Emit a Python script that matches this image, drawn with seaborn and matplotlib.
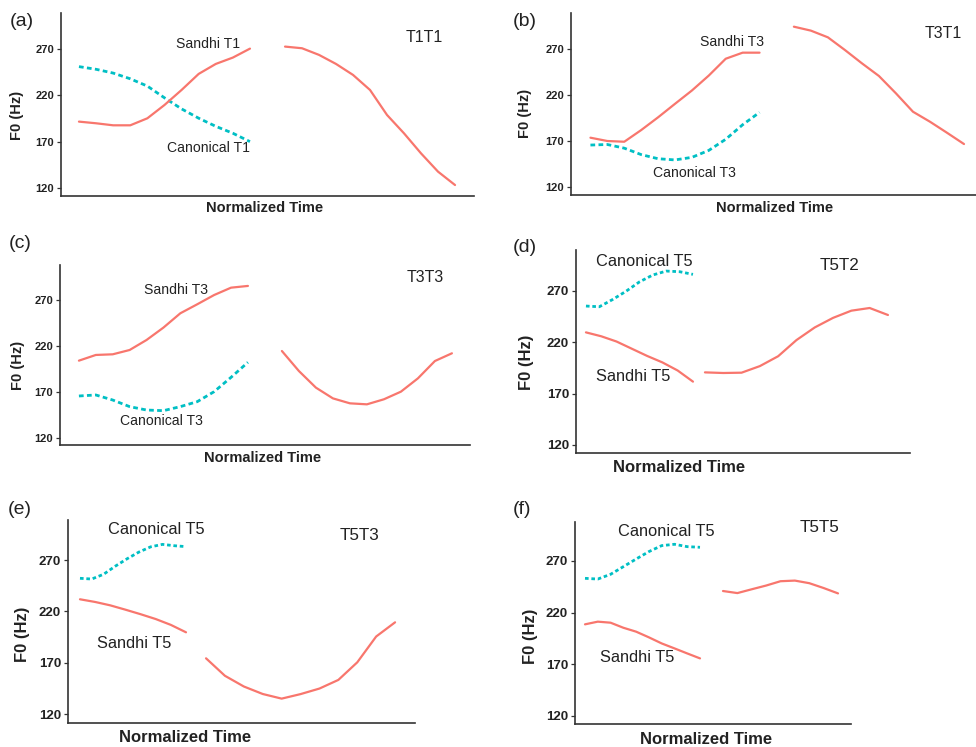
import numpy as np
import matplotlib
matplotlib.use("Agg")
import matplotlib.pyplot as plt
import seaborn as sns

# ---------------- data (F0 in Hz, equally spaced along each syllable) ----------------
yticks = [120, 170, 220, 270]

# (a) T1T1
a_sandhi1 = [191.6, 189.8, 187.6, 187.6, 195.2, 209.6, 225.9, 243.3, 254.1, 261.0, 270.7]
a_canon1 = [251.2, 248.3, 244.2, 238.0, 230.1, 217.4, 205.4, 195.3, 186.5, 179.0, 169.9]
a_syl2 = [272.9, 271.1, 263.9, 254.1, 242.2, 225.9, 198.8, 178.9, 157.2, 137.4, 122.9]
# (b) T3T1
b_sandhi1 = [173.4, 169.8, 169.0, 181.7, 195.6, 210.3, 224.8, 241.1, 259.4, 266.0, 266.0]
b_canon1 = [165.4, 166.0, 162.0, 155.0, 150.5, 149.2, 152.0, 159.6, 171.7, 187.5, 201.0]
b_syl2 = [294.3, 290.0, 282.7, 268.9, 254.4, 240.6, 221.7, 201.7, 190.8, 178.8, 166.5]
# (c) T3T3
c_sandhi1 = [203.9, 210.1, 210.8, 215.5, 226.4, 239.9, 255.5, 265.3, 275.4, 283.4, 285.3]
c_canon1 = [165.4, 166.5, 161.0, 153.8, 150.1, 149.4, 153.8, 159.2, 170.1, 185.7, 202.1]
c_syl2 = [214.4, 192.6, 174.5, 162.8, 157.4, 156.3, 161.8, 170.1, 184.6, 203.5, 211.9]
# (d) T5T2
d_sandhi1 = [229.5, 225.7, 220.6, 213.6, 206.6, 200.3, 192.4, 181.6]
d_canon1 = [255.1, 254.4, 261.5, 269.5, 278.6, 285.3, 289.1, 288.5, 285.9]
d_syl2 = [190.6, 190.0, 190.3, 196.7, 206.3, 222.0, 234.3, 243.6, 250.6, 253.2, 246.4]
# (e) T5T3
e_sandhi1 = [231.8, 229.2, 225.9, 221.7, 217.3, 212.6, 206.9, 199.7]
e_canon1 = [252.2, 251.5, 256.1, 264.0, 271.2, 277.7, 282.8, 285.2, 283.9, 283.0]
e_syl2 = [174.4, 157.4, 147.0, 139.7, 135.2, 139.6, 145.0, 153.4, 170.5, 195.6, 209.4]
# (f) T5T5
f_sandhi1 = [208.6, 211.2, 210.2, 205.3, 201.5, 196.0, 190.1, 185.3, 180.4, 175.6]
f_canon1 = [253.2, 252.5, 257.1, 264.5, 271.9, 279.1, 284.9, 286.2, 283.9, 283.3]
f_syl2 = [240.9, 238.9, 242.6, 246.2, 250.4, 251.0, 248.5, 243.8, 238.6]

panel_letters = ["(a)", "(b)", "(c)", "(d)", "(e)", "(f)"]
panel_titles = ["T1T1", "T3T1", "T3T3", "T5T2", "T5T3", "T5T5"]
sandhi_labels = ["Sandhi T1", "Sandhi T3", "Sandhi T3", "Sandhi T5", "Sandhi T5", "Sandhi T5"]
canon_labels = ["Canonical T1", "Canonical T3", "Canonical T3", "Canonical T5", "Canonical T5", "Canonical T5"]
sandhi_series = [a_sandhi1, b_sandhi1, c_sandhi1, d_sandhi1, e_sandhi1, f_sandhi1]
canon_series = [a_canon1, b_canon1, c_canon1, d_canon1, e_canon1, f_canon1]
second_series = [a_syl2, b_syl2, c_syl2, d_syl2, e_syl2, f_syl2]
# normalized-time span of the second syllable (first syllable spans 0..1)
syl2_span = [(1.205, 2.199), (1.203, 2.209), (1.201, 2.207),
             (1.112, 2.822), (1.189, 2.972), (1.200, 2.200)]

# ---------------- layout (pixels in a 976x747 canvas) ----------------
W, H = 976, 747
axes_px = [(61, 13, 474, 196), (571, 13, 976, 195), (60, 265, 470, 445),
           (576, 250, 910, 453), (68, 520, 415, 723), (575, 522, 851, 724)]
xlims = [(-0.105, 2.31), (-0.115, 2.28), (-0.112, 2.314),
         (-0.093, 3.028), (-0.113, 3.16), (-0.087, 2.313)]
ylims = [(111.0, 309.3), (111.0, 309.2), (112.0, 308.1),
         (112.2, 309.6), (111.5, 308.9), (112.0, 307.8)]
letter_pos = [(22, 22), (525, 22), (20, 243), (525, 247), (20, 510), (522, 510)]
title_pos = [(424, 38), (943, 33), (425, 278), (840, 266), (360, 535), (819, 528)]
sandhi_pos = [(208, 44), (732, 42), (176, 290), (633, 377), (134, 643), (637, 657)]
canon_pos = [(208, 148), (694, 173), (161, 421), (644, 262), (156, 529), (666, 532)]
xlabel_pos = [(265, 208), (775, 208), (263, 458), (679, 468), (185, 738), (706, 739)]
ylabel_pos = [(17, 115), (525, 113), (18, 365), (526, 362), (22, 634), (531, 636)]
big = [False, False, False, True, True, True]

RED = "#F8766D"
CYAN = "#00BFC4"

sns.set_theme(style="white")
plt.rcParams['font.family'] = ['Liberation Sans', 'DejaVu Sans']

fig = plt.figure(figsize=(W / 100, H / 100), dpi=100)
fig.patch.set_facecolor("white")


def fx(x):
    return x / W


def fy(y):
    return 1 - y / H


for i in range(6):
    l, t, r, b = axes_px[i]
    ax = fig.add_axes([fx(l), fy(b), (r - l) / W, (b - t) / H])
    ax.set_facecolor("white")

    s1 = sandhi_series[i]
    c1 = canon_series[i]
    s2 = second_series[i]
    t_s1 = np.linspace(0, 1, len(s1))
    t_c1 = np.linspace(0, 1, len(c1))
    t_s2 = np.linspace(syl2_span[i][0], syl2_span[i][1], len(s2))

    dash = (0, (1.3, 1.0)) if big[i] else (0, (1.7, 1.2))
    sns.lineplot(x=t_c1, y=c1, ax=ax, color=CYAN, linewidth=2.0,
                 linestyle=dash, sort=False, estimator=None)
    sns.lineplot(x=t_s1, y=s1, ax=ax, color=RED, linewidth=1.6,
                 sort=False, estimator=None)
    sns.lineplot(x=t_s2, y=s2, ax=ax, color=RED, linewidth=1.6,
                 sort=False, estimator=None)

    ax.set_xlim(*xlims[i])
    ax.set_ylim(*ylims[i])
    ax.set_xticks([])
    ax.set_yticks(yticks)
    ax.set_xlabel("")
    ax.set_ylabel("")
    tsize = 9.5 if big[i] else 8
    ax.tick_params(axis='y', left=True, length=3, width=0.9, color="#333333",
                   pad=2, labelsize=tsize, labelcolor="#222222")
    for lbl in ax.get_yticklabels():
        lbl.set_fontweight('bold')
    sns.despine(ax=ax)
    for sp in ("left", "bottom"):
        ax.spines[sp].set_color("#333333")
        ax.spines[sp].set_linewidth(1.2)

    lab_size = 12 if big[i] else 10.5
    fig.text(fx(xlabel_pos[i][0]), fy(xlabel_pos[i][1]), "Normalized Time",
             ha="center", va="center", fontsize=lab_size, fontweight="bold", color="#222222")
    fig.text(fx(ylabel_pos[i][0]), fy(ylabel_pos[i][1]), "F0 (Hz)", rotation=90,
             ha="center", va="center", fontsize=lab_size, fontweight="bold", color="#222222")

    fig.text(fx(letter_pos[i][0]), fy(letter_pos[i][1]), panel_letters[i],
             ha="center", va="center", fontsize=14, color="#222222")
    title_size = 12.3 if big[i] else 11.5
    fig.text(fx(title_pos[i][0]), fy(title_pos[i][1]), panel_titles[i],
             ha="center", va="center", fontsize=title_size, color="#222222")
    ann_size = 11.8 if big[i] else 10.1
    fig.text(fx(sandhi_pos[i][0]), fy(sandhi_pos[i][1]), sandhi_labels[i],
             ha="center", va="center", fontsize=ann_size, color="#222222")
    fig.text(fx(canon_pos[i][0]), fy(canon_pos[i][1]), canon_labels[i],
             ha="center", va="center", fontsize=ann_size, color="#222222")

fig.savefig("out.png", dpi=100, facecolor="white")
